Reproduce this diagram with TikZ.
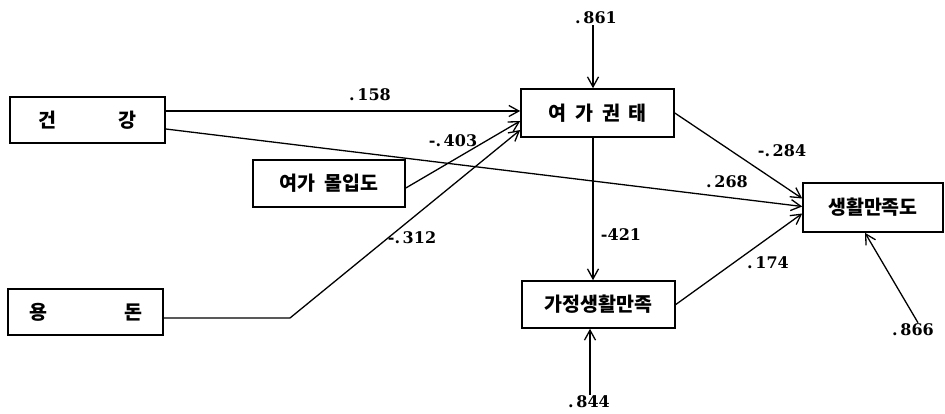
\documentclass[tikz,border=0pt]{standalone}
\usepackage{fontspec}
\setmainfont{DejaVu Serif}
\newfontfamily\kr{Noto Sans CJK KR}
\usetikzlibrary{arrows.meta}
\tikzset{
  box/.style={draw, line width=1.6pt, inner sep=0pt, font=\kr\bfseries\fontsize{19.5}{22}\selectfont},
  arr/.style={line width=1.3pt, -{Straight Barb[length=10pt,width=11pt,line width=1.3pt]}},
  num/.style={font=\bfseries\fontsize{16}{18}\selectfont, inner sep=1pt}
}
\begin{document}
\begin{tikzpicture}[x=1pt,y=-1pt]
\useasboundingbox (0,0) rectangle (945,414);
% boxes
\node[box, minimum width=155pt, minimum height=46pt] (health) at (87.5,120) {건\hspace{62pt}강};
\node[box, minimum width=152pt, minimum height=47pt] (flow) at (329,183.5) {여가\hspace{9pt}몰입도};
\node[box, minimum width=155pt, minimum height=46pt] (money) at (85.5,312) {용\hspace{77pt}돈};
\node[box, minimum width=153pt, minimum height=48pt] (bored) at (597.5,113) {여\hspace{9pt}가\hspace{9pt}권\hspace{9pt}태};
\node[box, minimum width=153pt, minimum height=47pt] (family) at (598.5,304.5) {가정생활만족};
\node[box, minimum width=140pt, minimum height=49pt] (life) at (873,207.5) {생활만족도};
% error terms
\node[num] (e1) at (596,18) {.\,861};
\node[num] (e2) at (589,402) {.\,844};
\node[num] (e3) at (913,330) {.\,866};
% coefficient labels
\node[num] (l1) at (370,95) {.\,158};
\node[num] (l2) at (453,141) {-.\,403};
\node[num] (l3) at (412,238) {-.\,312};
\node[num] (l4) at (727,182) {.\,268};
\node[num] (l5) at (782,151) {-.\,284};
\node[num] (l6) at (768,263) {.\,174};
\node[num] (l7) at (621,235) {-421};
% connectors
\draw[arr] ([yshift=9pt]health.east) -- ([yshift=9pt]health.east -| bored.west);
\draw[arr] ([yshift=-9pt]health.east) -- ([yshift=1pt]life.west);
\draw[arr] ([yshift=-4.5pt]flow.east) -- ([yshift=-8pt]bored.west);
\coordinate (bend) at (290,318);
\draw[arr] ([yshift=-6pt]money.east) -- (bend) -- ([yshift=-17pt]bored.west);
\draw[arr] ([xshift=-4.5pt]bored.south) -- ([xshift=-4.5pt]bored.south |- family.north);
\draw[arr] ([xshift=-3pt]e1.south) -- ([xshift=-3pt]e1.south |- bored.north);
\draw[arr] ([xshift=1pt]e2.north) -- ([xshift=1pt]e2.north |- family.south);
\draw[arr] ([xshift=5pt]e3.north) -- ([xshift=-8pt]life.south);
\draw[arr] (bored.east) -- ([yshift=9pt]life.west);
\draw[arr] (family.east) -- ([yshift=-6pt]life.west);
\end{tikzpicture}
\end{document}
